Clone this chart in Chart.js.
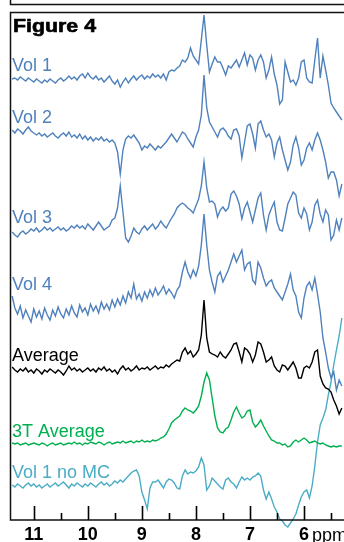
<!DOCTYPE html>
<html>
<head>
<meta charset="utf-8">
<style>
  html, body { margin: 0; padding: 0; background: #fff; }
  #wrap { width: 344px; height: 542px; position: relative; }
</style>
</head>
<body>
<div id="wrap"><canvas id="chart"></canvas></div>
<script src="https://cdn.jsdelivr.net/npm/chart.js@4.4.1/dist/chart.umd.min.js"></script>
<script>
// Sample grid: spectra are read every 0.05 ppm from 11.40 down to 5.30 ppm
const ppmStart = 11.4
const ppmStep = 0.05
const sampleCount = 123

const tickValues = [11, 10, 9, 8, 7, 6]
const minorTickValues = [10.5, 9.5, 8.5, 7.5, 6.5, 5.5]

const traceNames = ["Vol 1", "Vol 2", "Vol 3", "Vol 4", "Average", "3T Average", "Vol 1 no MC"]

// intensities (arbitrary units) relative to each trace's own baseline
const vol1 = [1,2,0,3,1,-1,2,0,-2,1,-1,-3,0,-2,1,-1,-3,0,2,-1,1,4,1,3,0,4,6,2,7,3,1,4,0,2,-2,1,4,-1,-4,0,-7,-2,2,-3,1,4,0,3,5,1,4,2,6,3,5,2,6,0,8,
  10,9,12,14,20,18,22,32,24,20,16,40,65,35,8,16,23,18,18,12,5,14,12,16,20,13,20,27,15,25,22,10,20,25,18,2,10,23,6,-5,-24,-20,18,8,-2,0,-5,2,18,20,2,-2,-3,20,42,2,24,10,-5,-23,-28,-32,-36,-40]
const vol2 = [6,3,7,5,2,6,9,5,3,1,3,0,2,-1,1,3,0,-2,1,3,0,4,-1,1,-2,2,-3,0,-4,-1,-5,-2,-4,-1,-5,-3,-6,-4,-7,-16,-38,-14,-3,0,-2,1,-3,-7,-14,-10,-12,-8,-11,-14,-10,-12,-9,-6,-2,
  2,-2,-6,-1,4,2,-3,-7,-11,-1,6,21,61,28,14,9,4,-1,6,8,5,0,-3,6,7,0,-22,-6,10,12,2,-12,12,15,6,-1,2,-4,-21,-7,-1,-14,-24,-34,-26,-9,-1,-12,-29,-24,-12,-7,-14,-4,3,-4,-14,-26,-42,-36,-36,-44,-60,-48]
const vol3 = [-2,-5,-7,-3,-1,-4,-2,1,-1,2,-2,0,3,0,2,-1,1,3,0,2,-1,1,4,2,5,2,4,1,6,3,0,4,8,4,0,2,4,10,12,22,44,18,-8,-12,-6,2,-2,-4,1,4,0,3,6,1,4,9,5,2,7,
  12,16,22,25,27,25,22,20,17,24,31,44,68,42,28,29,26,13,20,23,19,22,36,39,34,26,11,22,28,18,8,20,32,37,15,0,15,22,28,8,0,-1,12,26,32,38,35,17,12,22,16,0,8,25,30,16,8,20,15,-10,-5,10,0,12]
const vol4 = [14,2,-4,4,-8,0,-6,-12,1,-7,-1,-9,2,-5,-10,0,-6,3,-4,-8,1,-5,4,-3,-7,5,-2,2,-5,6,-1,4,-3,8,1,6,0,10,3,11,5,14,7,18,12,26,11,16,9,18,12,20,14,22,15,19,24,16,21,
  17,12,20,24,38,48,38,32,40,34,44,65,96,65,40,28,18,34,38,28,34,40,48,56,48,54,60,40,46,48,30,26,48,42,32,24,28,30,22,18,14,10,18,26,36,20,14,-2,-8,12,24,28,20,32,16,-2,-28,-42,-58,-68,-62,-80,-70,-76]
const average = [3,0,-2,1,-1,2,-2,0,-3,1,-1,-4,0,-2,1,-1,-3,0,-2,-5,-1,4,0,2,-1,1,-2,0,2,-1,1,-2,2,0,3,-1,1,-2,0,-4,1,4,0,2,-1,1,4,0,2,1,3,0,2,4,1,3,2,5,3,
  6,8,10,9,18,22,16,19,13,16,20,35,70,32,18,16,15,13,18,14,12,16,20,26,27,18,8,22,20,16,8,15,28,26,18,8,10,13,4,0,-2,5,4,0,4,8,2,-8,-8,2,4,2,8,18,20,-6,-14,-18,-19,-22,-30,-36,-44,-38]
const average3T = [1,0,1,-1,0,1,-1,0,1,0,-1,1,0,-2,0,1,-1,0,1,-1,0,1,0,2,0,1,-1,1,0,2,1,0,2,1,-1,1,2,0,1,2,1,3,1,2,3,1,3,2,4,2,3,2,4,3,4,6,7,10,15,
  21,24,26,28,33,36,34,33,31,34,38,48,62,71,64,46,28,16,12,11,15,17,24,32,37,31,26,28,33,34,22,17,20,24,18,13,8,4,3,1,1,-1,0,-3,-2,2,4,2,4,6,4,1,2,3,1,0,1,-1,-2,-3,-2,-3,-2,-2]
const vol1NoMC = [0,-2,1,-1,-3,0,2,-1,1,-2,0,-3,-1,1,-2,0,2,-1,1,3,0,-3,1,-1,2,0,-2,1,-1,2,0,-2,1,3,0,2,-1,1,4,2,5,3,6,9,12,14,15,9,-7,-15,-24,-3,3,3,5,1,-3,3,6,
  5,2,-3,-4,9,15,11,13,12,14,18,27,20,-5,-1,7,4,1,-2,-4,5,7,3,1,-3,3,8,5,7,5,8,9,12,9,-5,-14,-7,-14,-22,-27,-34,-36,-40,-42,-38,-34,-29,-20,-12,-7,-5,-13,-1,19,43,60,67,75,90,103,120,135,149,167]

const traceValues = [vol1, vol2, vol3, vol4, average, average3T, vol1NoMC]
// vertical stacking of the traces
const traceOffsets = [440, 384, 290, 210, 150, 76, 35]

const BLUE = "#4f81bd"
const traceColors = [BLUE, BLUE, BLUE, BLUE, "#000000", "#00b050", "#4bacc6"]
// how far each name sits above its trace baseline (px)
const labelRaise = [9, 13, 7, 20, 9, 7, 7]

const FONT = "'Liberation Sans', Arial, Helvetica, sans-serif"

const ppm = []
for (let i = 0; i < sampleCount; i++) ppm.push(+(ppmStart - ppmStep * i).toFixed(2))

const datasets = traceValues.map((values, k) => ({
  label: traceNames[k],
  data: values.map((v, i) => ({ x: ppm[i], y: traceOffsets[k] + v })),
  borderColor: traceColors[k],
  borderWidth: 1.4,
  pointRadius: 0,
  tension: 0,
  fill: false,
  clip: false,
}))

const decorations = {
  id: "decorations",
  afterDraw(chart) {
    const { ctx, chartArea, scales } = chart
    const xs = scales.x
    const ys = scales.y
    ctx.save()
    ctx.strokeStyle = "#111"
    ctx.lineWidth = 1.5
    ctx.beginPath()
    // bottom of the panel above
    ctx.moveTo(chartArea.left + 0.5, 0)
    ctx.lineTo(chartArea.left + 0.5, 4.5)
    ctx.lineTo(chartArea.right, 4.5)
    // frame and axis line of this panel
    ctx.moveTo(chartArea.right, chartArea.top + 0.5)
    ctx.lineTo(chartArea.left + 0.5, chartArea.top + 0.5)
    ctx.lineTo(chartArea.left + 0.5, chartArea.bottom)
    ctx.lineTo(chartArea.right, chartArea.bottom)
    ctx.stroke()

    // tick marks pointing into the plot
    ctx.strokeStyle = "#000"
    ctx.lineWidth = 1.6
    ctx.beginPath()
    tickValues.forEach((v) => {
      const px = Math.round(xs.getPixelForValue(v)) + 0.5
      ctx.moveTo(px, chartArea.bottom)
      ctx.lineTo(px, chartArea.bottom - 14)
    })
    minorTickValues.forEach((v) => {
      const px = Math.round(xs.getPixelForValue(v)) + 0.5
      ctx.moveTo(px, chartArea.bottom)
      ctx.lineTo(px, chartArea.bottom - 7)
    })
    ctx.stroke()

    // title, drawn wide and heavy like the original
    ctx.fillStyle = "#000"
    ctx.textBaseline = "alphabetic"
    ctx.textAlign = "left"
    ctx.font = "bold 18px " + FONT
    const titleWidth = ctx.measureText("Figure 4").width
    ctx.save()
    ctx.translate(13, 32)
    ctx.scale(83 / titleWidth, 1)
    ctx.lineWidth = 0.6
    ctx.strokeStyle = "#000"
    ctx.strokeText("Figure 4", 0, 0)
    ctx.fillText("Figure 4", 0, 0)
    ctx.restore()

    // trace names
    ctx.font = "18px " + FONT
    traceNames.forEach((name, k) => {
      ctx.fillStyle = traceColors[k]
      ctx.fillText(name, 12, ys.getPixelForValue(traceOffsets[k]) - labelRaise[k])
    })

    // unit next to the last tick label
    ctx.fillStyle = "#000"
    ctx.font = "18px " + FONT
    ctx.fillText("ppm", xs.getPixelForValue(6) + 8, 541)
    ctx.restore()
  },
}

new Chart(document.getElementById("chart"), {
  type: "line",
  data: { datasets },
  options: {
    responsive: true,
    maintainAspectRatio: false,
    animation: false,
    layout: { padding: { left: 10, top: 12, right: 0, bottom: 0 } },
    plugins: { legend: { display: false }, tooltip: { enabled: false } },
    scales: {
      x: {
        type: "linear",
        reverse: true,
        min: 5.26,
        max: 11.44,
        grid: { display: false, drawTicks: false },
        border: { display: false },
        afterBuildTicks: (scale) => {
          scale.ticks = tickValues.map((v) => ({ value: v }))
        },
        afterFit: (scale) => {
          scale.height = 22
        },
        ticks: {
          padding: 4,
          color: "#000",
          maxRotation: 0,
          autoSkip: false,
          font: { family: FONT, size: 18, weight: "bold" },
          callback: (v) => String(v),
        },
      },
      y: { display: false, min: 0, max: 508 },
    },
  },
  plugins: [decorations],
})
</script>
</body>
</html>
